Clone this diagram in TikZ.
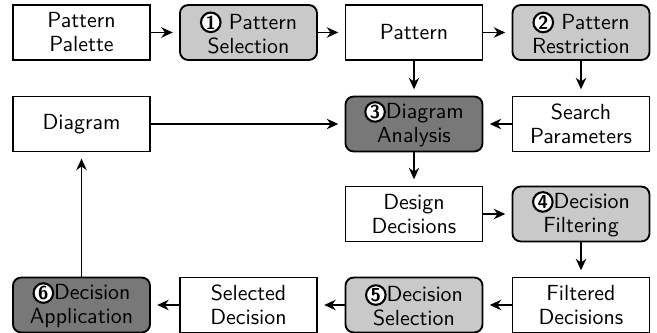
\documentclass[tikz,border=0pt]{standalone}
\usepackage{tikz}
\usetikzlibrary{arrows.meta,positioning}

\newcommand{\stepno}[1]{\tikz[baseline=(num.base)]\node[circle, draw, line width=1pt, fill=white, inner sep=0pt, minimum size=9.4pt, font=\fontsize{9}{9}\selectfont\bfseries] (num) {#1};}

\begin{document}
\begin{tikzpicture}[x=0.48pt, y=-0.48pt,
    every node/.style={font=\fontsize{10.5}{11.5}\selectfont\sffamily},
    artefact/.style={draw, line width=0.9pt, fill=white, align=center, minimum width=65.8pt, minimum height=26.4pt, inner sep=1pt},
    activity/.style={artefact, rounded corners=4pt, fill=black!21},
    autoact/.style={activity, fill=black!53},
    flow/.style={-{Stealth[length=5.5pt, width=5pt]}, thick, shorten >=3pt}]
    \useasboundingbox (0,0) rectangle (657,333);

    % First row: patterns
    \node[artefact] (palette) at (81.5,32.5) {Pattern\\Palette};
    \node[activity] (select) at (248.5,32.5) {\stepno{1} Pattern\\Selection};
    \node[artefact] (pattern) at (414,32.5) {Pattern};
    \node[activity] (restrict) at (581,32.5) {\stepno{2} Pattern\\Restriction};

    % Second row: analysis
    \node[artefact] (diagram) at (81.5,124) {Diagram};
    \node[autoact] (analysis) at (414,124) {\stepno{3}Diagram\\Analysis};
    \node[artefact] (params) at (581,124) {Search\\Parameters};

    % Third row: filtering
    \node[artefact] (design) at (414,214) {Design\\Decisions};
    \node[activity] (filter) at (581,214) {\stepno{4}Decision\\Filtering};

    % Fourth row: selection and application
    \node[autoact] (apply) at (81.5,305) {\stepno{6}Decision\\Application};
    \node[artefact] (selected) at (248.5,305) {Selected\\Decision};
    \node[activity] (choose) at (414,305) {\stepno{5}Decision\\Selection};
    \node[artefact] (filtered) at (581,305) {Filtered\\Decisions};

    % Arrows
    \draw[flow] (palette) -- (select);
    \draw[flow] (select) -- (pattern);
    \draw[flow] (pattern) -- (restrict);
    \draw[flow] (pattern) -- (analysis);
    \draw[flow] (restrict) -- (params);
    \draw[flow] (params) -- (analysis);
    \draw[flow] (diagram) -- (analysis);
    \draw[flow] (analysis) -- (design);
    \draw[flow] (design) -- (filter);
    \draw[flow] (filter) -- (filtered);
    \draw[flow] (filtered) -- (choose);
    \draw[flow] (choose) -- (selected);
    \draw[flow] (selected) -- (apply);
    \draw[flow] (apply) -- (diagram);
\end{tikzpicture}
\end{document}
